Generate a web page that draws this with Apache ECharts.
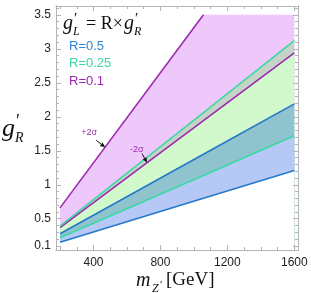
<!DOCTYPE html>
<html><head><meta charset="utf-8">
<script src="https://cdn.jsdelivr.net/npm/echarts@6/dist/echarts.min.js"></script>
<style>html,body{margin:0;padding:0;background:#fff}#c{width:311px;height:293px}</style>
</head><body><div id="c"></div>
<script>
// Z' mass points (GeV)
const mass = [200, 1057, 1600];
// boundary lines g'_R
const purpleHi = [0.66, 3.5, 3.5];   // R=0.1 +2σ (fill capped at 3.5)
const greenHi  = [0.39, 2.06, 3.12]; // R=0.25 upper
const purpleLo = [0.37, 1.945, 2.94];// R=0.1 -2σ
const blueHi   = [0.28, 1.448, 2.19];// R=0.5 upper
const greenLo  = [0.22, 1.136, 1.72];// R=0.25 lower
const blueLo   = [0.155, 0.80, 1.21];// R=0.5 lower
// tick labels
const xTicks = [400, 800, 1200, 1600];
const xMinor = [200, 300, 400, 500, 600, 700, 800, 900, 1000, 1100, 1200, 1300, 1400, 1500, 1600];
const yTicks = [0.1, 0.5, 1, 1.5, 2, 2.5, 3, 3.5];
const yMinor = [0.1,0.2,0.3,0.4,0.5,0.6,0.7,0.8,0.9,1,1.1,1.2,1.3,1.4,1.5,1.6,1.7,1.8,1.9,2,2.1,2.2,2.3,2.4,2.5,2.6,2.7,2.8,2.9,3,3.1,3.2,3.3,3.4,3.5,3.6];
const legendLabels = ['R=0.5', 'R=0.25', 'R=0.1'];

const XMIN = 176, XMAX = 1622, YMIN = 0.04, YMAX = 3.63;
const cPurple = '#9b2aae', cGreen = '#3bd9a3', cBlue = '#2579c9';
const frame = '#b4b4b4';

const pts = arr => mass.map((m, i) => [m, arr[i]]);

// painter's algorithm: each boundary fills down to the axis bottom, later ones cover earlier ones
function fill(arr, color, z) {
  return {type: 'line', data: pts(arr), symbol: 'none', silent: true,
    lineStyle: {width: 0, opacity: 0}, areaStyle: {color, opacity: 1, origin: 'start'}, z};
}
function edge(data, color) {
  return {type: 'line', data, symbol: 'none', silent: true,
    lineStyle: {width: 1.6, color}, z: 3};
}

function xAx(pos, vals, len, labels) {
  return {type: 'value', position: pos, min: XMIN, max: XMAX,
    axisLine: {show: true, onZero: false, lineStyle: {color: frame, width: 1}},
    axisTick: {show: true, inside: true, length: len, customValues: vals, lineStyle: {color: frame}},
    axisLabel: labels ? {show: true, customValues: xTicks, margin: 7, color: '#222',
      fontFamily: 'Liberation Sans', fontSize: 12, formatter: v => String(v)} : {show: false},
    splitLine: {show: false}, z: 5};
}
function yAx(pos, vals, len, labels) {
  return {type: 'value', position: pos, min: YMIN, max: YMAX,
    axisLine: {show: true, onZero: false, lineStyle: {color: frame, width: 1}},
    axisTick: {show: true, inside: true, length: len, customValues: vals, lineStyle: {color: frame}},
    axisLabel: labels ? {show: true, customValues: yTicks, margin: 5, color: '#222',
      fontFamily: 'Liberation Sans', fontSize: 12, formatter: v => String(v)} : {show: false},
    splitLine: {show: false}, z: 5};
}

const chart = echarts.init(document.getElementById('c'), null, {renderer: 'canvas'});
chart.setOption({
  animation: false,
  grid: {left: 56, right: 13, top: 6, bottom: 43},
  xAxis: [xAx('bottom', xTicks, 5, true), xAx('bottom', xMinor, 3, false),
          xAx('top', xTicks, 5, false), xAx('top', xMinor, 3, false)],
  yAxis: [yAx('left', yTicks, 5, true), yAx('left', yMinor, 3, false),
          yAx('right', yTicks, 5, false), yAx('right', yMinor, 3, false)],
  series: [
    fill(purpleHi, '#efc8fb', 1),
    fill(greenHi, '#c6d3c8', 1),
    fill(purpleLo, '#d2f9cc', 1),
    fill(blueHi, '#8fc4cf', 1),
    fill(greenLo, '#b5c8f6', 1),
    fill(blueLo, '#ffffff', 1),
    edge(pts(blueLo), cBlue),
    edge(pts(greenLo), cGreen),
    edge(pts(blueHi), cBlue),
    edge(pts(purpleLo), cPurple),
    edge(pts(greenHi), cGreen),
    edge(pts(purpleHi).slice(0, 2), cPurple)
  ]
});

function arrow(from, to) {
  const dx = to[0] - from[0], dy = to[1] - from[1];
  const L = Math.hypot(dx, dy), ux = dx / L, uy = dy / L;
  const hl = 5, hw = 2.2;
  const bx = to[0] - ux * hl, by = to[1] - uy * hl;
  return [
    {type: 'line', shape: {x1: from[0], y1: from[1], x2: bx, y2: by}, style: {stroke: '#111', lineWidth: 1}, z: 110},
    {type: 'polygon', shape: {points: [to, [bx - uy * hw, by + ux * hw], [bx + uy * hw, by - ux * hw]]}, style: {fill: '#111'}, z: 110}
  ];
}
const tipHi = chart.convertToPixel({gridIndex: 0}, [470, 0.66 / 200 * 470]);
const tipLo = chart.convertToPixel({gridIndex: 0}, [720, 1.945 / 1057 * 720]);
const serif = 'Liberation Serif';
const T = (left, top, text, font, fill) => ({type: 'text', left, top, z: 100, style: {text, font, fill}});
const g = [
  // formula
  T(63, 14, 'g', 'italic 20px ' + serif, '#111'),
  T(74, 12, '′', '15px ' + serif, '#111'),
  T(73, 26, 'L', 'italic 12px ' + serif, '#111'),
  T(86, 15, '= R×', '18px ' + serif, '#111'),
  T(124, 14, 'g', 'italic 20px ' + serif, '#111'),
  T(135, 12, '′', '15px ' + serif, '#111'),
  T(134, 26, 'R', 'italic 12px ' + serif, '#111'),
  // R legend
  T(69, 40, legendLabels[0], '13px Liberation Sans', '#2f86d8'),
  T(69, 57, legendLabels[1], '13px Liberation Sans', '#3ad6a0'),
  T(69, 75, legendLabels[2], '13px Liberation Sans', '#9c27b0'),
  // y title
  T(2, 116, 'g', 'italic 26px ' + serif, '#111'),
  T(16, 113, '′', '18px ' + serif, '#111'),
  T(15, 131, 'R', 'italic 14px ' + serif, '#111'),
  // x title
  T(136, 271, 'm', 'italic 20px ' + serif, '#111'),
  T(152, 283, 'Z', 'italic 12px ' + serif, '#111'),
  T(160, 280, '′', '11px ' + serif, '#111'),
  T(166, 271, '[GeV]', '19px ' + serif, '#111'),
  // sigma labels
  T(tipHi[0] - 24, tipHi[1] - 19, '+2σ', '9px Liberation Sans', '#9c27b0'),
  T(tipLo[0] - 17, tipLo[1] - 18, '-2σ', '9px Liberation Sans', '#9c27b0')
].concat(arrow([tipHi[0] - 9, tipHi[1] - 7], tipHi), arrow([tipLo[0] - 5, tipLo[1] - 9], tipLo));
chart.setOption({graphic: g});
</script></body></html>
